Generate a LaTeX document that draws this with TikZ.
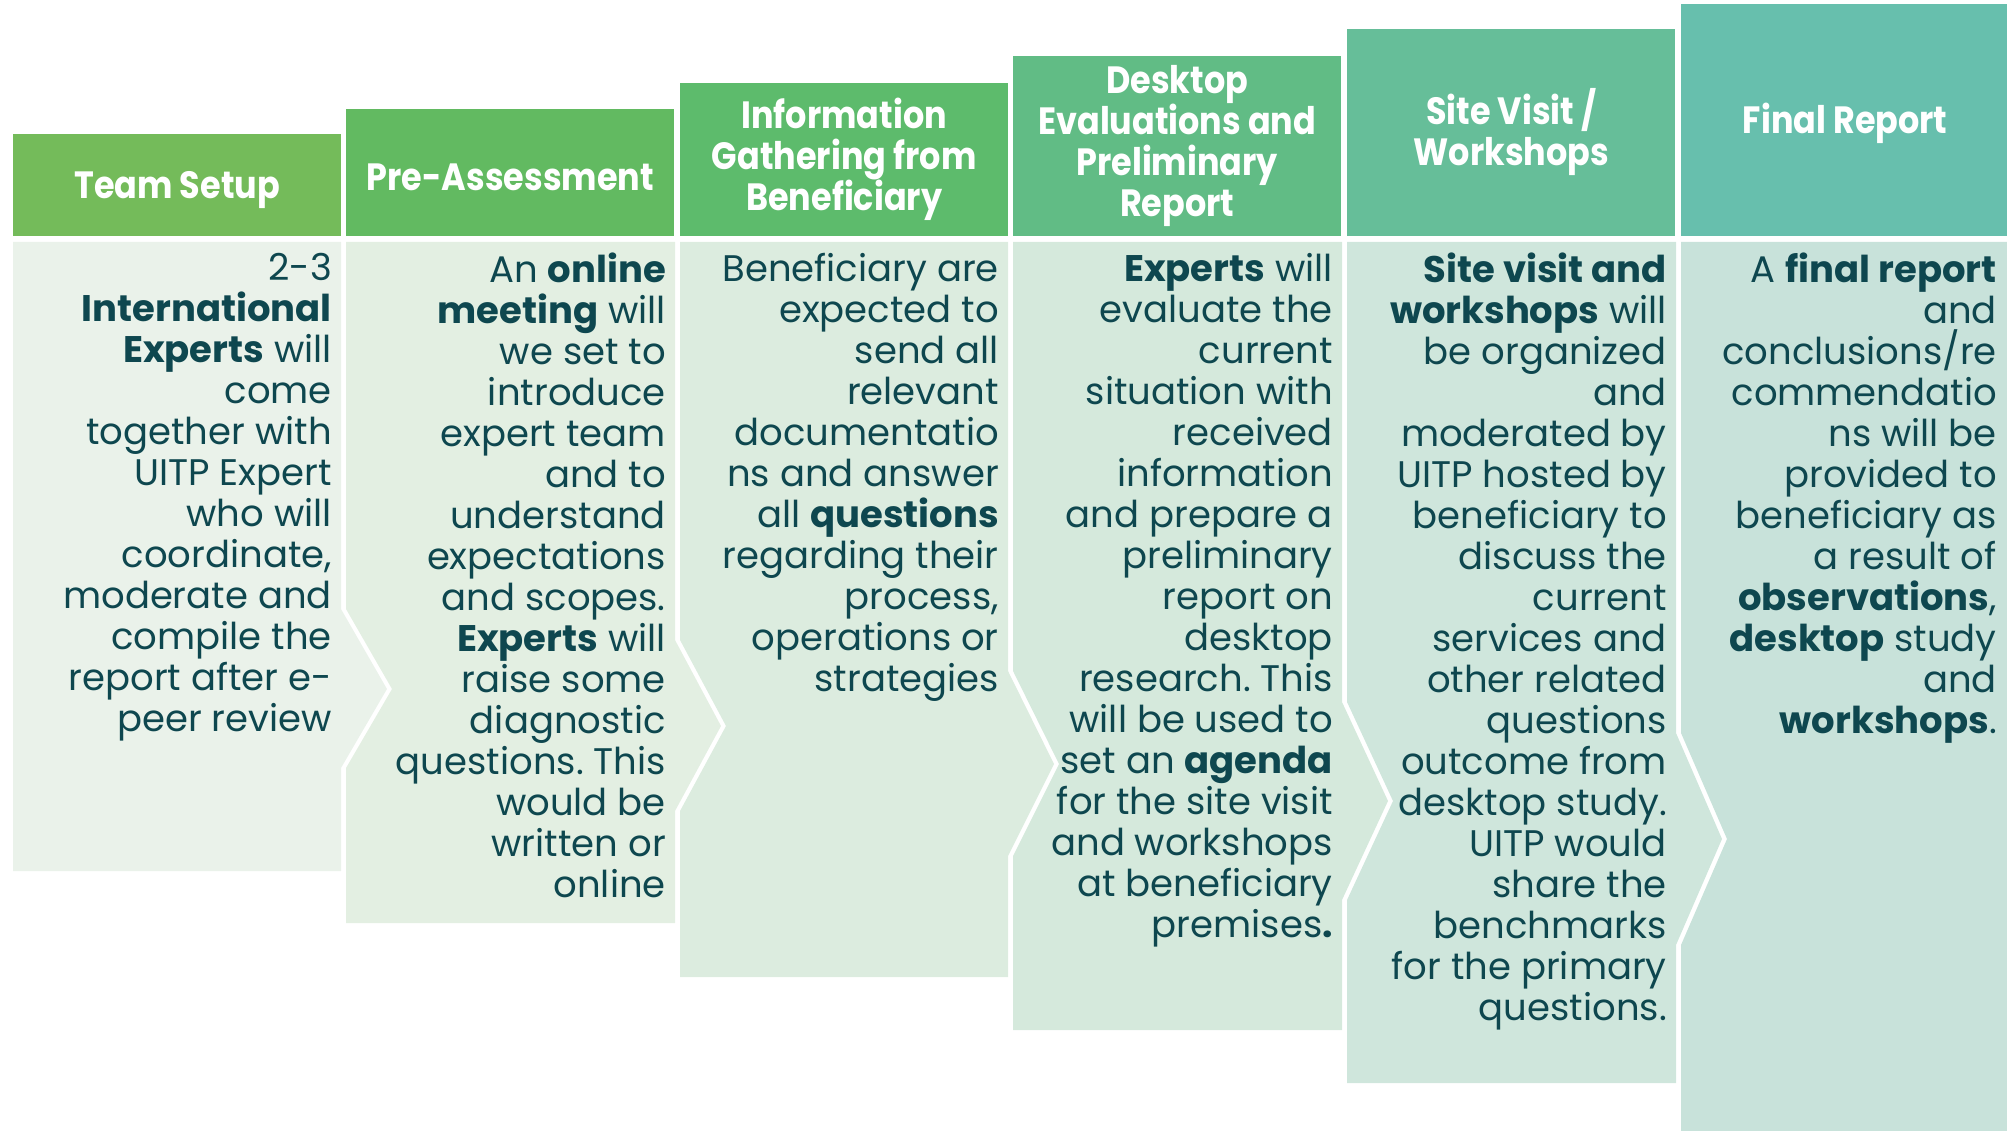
\documentclass[tikz,border=0pt]{standalone}
\usepackage{fontspec}
\setmainfont{Poppins}
\newfontfamily\headfont[FakeStretch=0.88]{Poppins}
\frenchspacing

\definecolor{textteal}{HTML}{0E474F}
\definecolor{teamhead}{HTML}{74BB5A}
\definecolor{prehead}{HTML}{62BA61}
\definecolor{infohead}{HTML}{5DBB6C}
\definecolor{deskhead}{HTML}{61BC85}
\definecolor{sitehead}{HTML}{66BE99}
\definecolor{finalhead}{HTML}{67BFAD}
\definecolor{teambody}{HTML}{EAF2EA}
\definecolor{prebody}{HTML}{E3EFE2}
\definecolor{infobody}{HTML}{DCECDF}
\definecolor{deskbody}{HTML}{D5E9DC}
\definecolor{sitebody}{HTML}{CFE6DC}
\definecolor{finalbody}{HTML}{C8E2DA}

\begin{document}
\begin{tikzpicture}[x=1pt, y=-1pt]

    % Styles
    \tikzstyle{header} = [rectangle, anchor=south west, minimum width=328pt, inner sep=0pt, align=center, text=white, font=\headfont\bfseries\fontsize{38}{41}\selectfont, execute at begin node={\rule{0pt}{37pt}}]
    \tikzstyle{body} = [anchor=north east, inner sep=0pt, align=right, text=textteal, font=\fontsize{37}{41}\selectfont]

    \useasboundingbox (0,0) rectangle (2007,1131);

    % Corps (chevrons)
    \fill [teambody] (13,242) -- (341,242) -- (341,609) -- (387,689) -- (341,768) -- (341,871) -- (13,871) -- cycle;
    \fill [prebody] (346,242) -- (675,242) -- (675,640) -- (721,726) -- (675,811) -- (675,923) -- (346,923) -- (346,768) -- (392,689) -- (346,609) -- cycle;
    \fill [infobody] (680,242) -- (1008,242) -- (1008,671) -- (1054,764) -- (1008,856) -- (1008,977) -- (680,977) -- (680,811) -- (726,726) -- (680,640) -- cycle;
    \fill [deskbody] (1013,242) -- (1342,242) -- (1342,702) -- (1388,801) -- (1342,900) -- (1342,1030) -- (1013,1030) -- (1013,856) -- (1059,764) -- (1013,671) -- cycle;
    \fill [sitebody] (1347,242) -- (1676,242) -- (1676,733) -- (1722,839) -- (1676,945) -- (1676,1083) -- (1347,1083) -- (1347,900) -- (1393,801) -- (1347,702) -- cycle;
    \fill [finalbody] (1681,242) -- (2007,242) -- (2007,1131) -- (1681,1131) -- (1681,945) -- (1727,839) -- (1681,733) -- cycle;

    % En-tetes
    \node (team) [header, fill=teamhead, minimum height=102pt] at (13,236) {Team Setup};
    \node (pre) [header, fill=prehead, minimum height=127pt] at (346,236) {Pre-Assessment};
    \node (info) [header, fill=infohead, minimum height=153pt] at (680,236) {Information\\Gathering from\\Beneficiary};
    \node (desk) [header, fill=deskhead, minimum height=180pt] at (1013,236) {Desktop\\Evaluations and\\Preliminary\\Report};
    \node (site) [header, fill=sitehead, minimum height=207pt] at (1347,236) {Site Visit /\\Workshops};
    \node (final) [header, fill=finalhead, minimum height=232pt] at (1681,236) {Final Report};

    % Textes
    \node (teamtext) [body] at (332,253) {2-3\\\textbf{International}\\\textbf{Experts} will\\come\\together with\\UITP Expert\\who will\\coordinate,\\moderate and\\compile the\\report after e-\\peer review};
    \node (pretext) [body] at (666,253) {An \textbf{online}\\\textbf{meeting} will\\we set to\\introduce\\expert team\\and to\\understand\\expectations\\and scopes.\\\textbf{Experts} will\\raise some\\diagnostic\\questions. This\\would be\\written or\\online};
    \node (infotext) [body] at (999,253) {Beneficiary are\\expected to\\send all\\relevant\\documentatio\\ns and answer\\all \textbf{questions}\\regarding their\\process,\\operations or\\strategies};
    \node (desktext) [body] at (1333,253) {\textbf{Experts} will\\evaluate the\\current\\situation with\\received\\information\\and prepare a\\preliminary\\report on\\desktop\\research. This\\will be used to\\set an \textbf{agenda}\\for the site visit\\and workshops\\at beneficiary\\premises\textbf{.}};
    \node (sitetext) [body] at (1667,253) {\textbf{Site visit and}\\\textbf{workshops} will\\be organized\\and\\moderated by\\UITP hosted by\\beneficiary to\\discuss the\\current\\services and\\other related\\questions\\outcome from\\desktop study.\\UITP would\\share the\\benchmarks\\for the primary\\questions.};
    \node (finaltext) [body] at (1997,253) {A \textbf{final report}\\and\\conclusions/re\\commendatio\\ns will be\\provided to\\beneficiary as\\a result of\\\textbf{observations},\\\textbf{desktop} study\\and\\\textbf{workshops}.};

\end{tikzpicture}
\end{document}
